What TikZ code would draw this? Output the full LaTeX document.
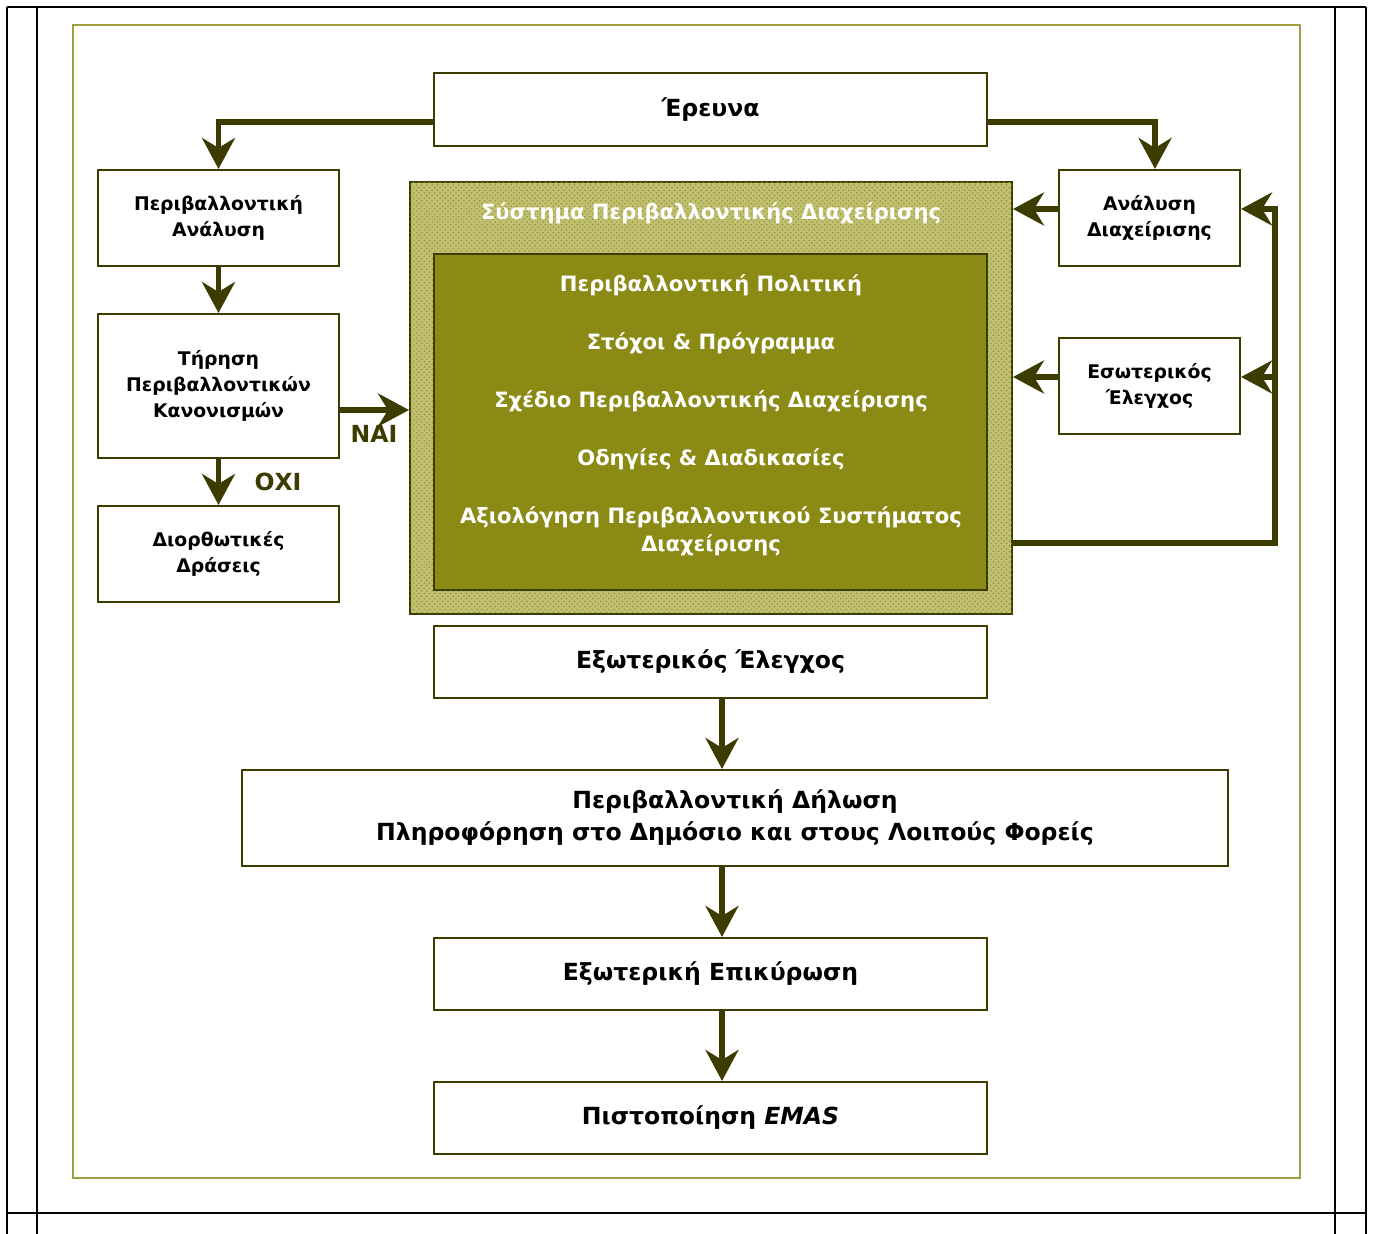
\documentclass[tikz,border=0pt]{standalone}
\usepackage{fontspec}
\setmainfont{DejaVu Sans}
\usetikzlibrary{arrows.meta,patterns,calc}
\definecolor{dk}{RGB}{60,60,0}
\definecolor{frameol}{RGB}{160,160,64}
\definecolor{sysfill}{RGB}{192,192,112}
\definecolor{syspat}{RGB}{150,150,60}
\definecolor{innerfill}{RGB}{138,138,20}
\begin{document}
\begin{tikzpicture}[x=0.02cm,y=-0.02cm,
 box/.style={draw=dk, line width=1.2pt, fill=white, align=center, inner sep=0pt},
 mainbox/.style={box, font=\fontsize{13.4}{18.2}\selectfont\bfseries},
 sidebox/.style={box, font=\fontsize{10.7}{14.8}\selectfont\bfseries},
 wtext/.style={text=white, align=center, inner sep=0pt, font=\fontsize{12}{15.9}\selectfont\bfseries},
 lbl/.style={text=dk, inner sep=0pt, font=\fontsize{13.4}{16}\selectfont\bfseries},
 arr/.style={draw=dk, line width=3.2pt, line join=miter, -{Stealth[length=0.62cm,width=0.66cm,inset=0.2cm]}},
 tbl/.style={draw=black, line width=1.4pt},
 ]
\useasboundingbox (0,0) rectangle (1374,1234);
% table lines
\draw[tbl] (7,7) -- (1366,7);
\draw[tbl] (7,1213) -- (1366,1213);
\draw[tbl] (7,7) -- (7,1234);
\draw[tbl] (37,7) -- (37,1234);
\draw[tbl] (1335,7) -- (1335,1234);
\draw[tbl] (1366,7) -- (1366,1234);
% olive frame
\draw[draw=frameol, line width=1.2pt] (73,25) rectangle (1300,1178);

% boxes
\node[mainbox, minimum width=11.06cm, minimum height=1.46cm] (erevna) at (710.5,109.5) {Έρευνα};
\node[sidebox, minimum width=4.82cm, minimum height=1.92cm] (pa) at (218.5,218) {Περιβαλλοντική\\Ανάλυση};
\node[sidebox, minimum width=4.82cm, minimum height=2.88cm] (tirisi) at (218.5,386) {Τήρηση\\Περιβαλλοντικών\\Κανονισμών};
\node[sidebox, minimum width=4.82cm, minimum height=1.92cm] (dior) at (218.5,554) {Διορθωτικές\\Δράσεις};
\node[draw=dk, line width=1.2pt, fill=sysfill, postaction={pattern=crosshatch dots, pattern color=syspat}, minimum width=12.04cm, minimum height=8.64cm, inner sep=0pt] (sys) at (711,398) {};
\node[draw=dk, line width=1.6pt, fill=innerfill, minimum width=11.06cm, minimum height=6.72cm, inner sep=0pt] (inner) at (710.5,422) {};
\node[wtext] (systitle) at (711,213) {Σύστημα Περιβαλλοντικής Διαχείρισης};
\node[wtext] (i1) at (711,285) {Περιβαλλοντική Πολιτική};
\node[wtext] (i2) at (711,343) {Στόχοι \& Πρόγραμμα};
\node[wtext] (i3) at (711,401) {Σχέδιο Περιβαλλοντικής Διαχείρισης};
\node[wtext] (i4) at (711,459) {Οδηγίες \& Διαδικασίες};
\node[wtext] (i5) at (711,531) {Αξιολόγηση Περιβαλλοντικού Συστήματος\\Διαχείρισης};
\node[sidebox, minimum width=3.62cm, minimum height=1.92cm] (anal) at (1149.5,218) {Ανάλυση\\Διαχείρισης};
\node[sidebox, minimum width=3.62cm, minimum height=1.92cm] (esot) at (1149.5,386) {Εσωτερικός\\Έλεγχος};
\node[mainbox, minimum width=11.06cm, minimum height=1.44cm] (exot) at (710.5,662) {Εξωτερικός Έλεγχος};
\node[mainbox, minimum width=19.72cm, minimum height=1.92cm] (dilosi) at (735,818) {Περιβαλλοντική Δήλωση\\Πληροφόρηση στο Δημόσιο και στους Λοιπούς Φορείς};
\node[mainbox, minimum width=11.06cm, minimum height=1.44cm] (epik) at (710.5,974) {Εξωτερική Επικύρωση};
\node[mainbox, minimum width=11.06cm, minimum height=1.44cm] (emas) at (710.5,1118) {Πιστοποίηση \textit{EMAS}};

% helper coordinates
\coordinate (ey) at (0,122);
\coordinate (ny) at (0,410);
\coordinate (fbc) at (1275,543);
\coordinate (fbt) at (1275,209);
\coordinate (fbm) at (1275,377);
\coordinate (vx) at (722,0);
\coordinate (lx) at (218.5,0);

% connectors
\draw[arr] (erevna.west |- ey) -| (pa.north);
\draw[arr] (erevna.east |- ey) -| ([xshift=0.11cm]anal.north);
\draw[arr] (pa.south) -- (lx |- tirisi.north);
\draw[arr] (lx |- tirisi.south) -- (dior.north);
\draw[arr] (tirisi.east |- ny) -- (sys.west |- ny);
\draw[arr] (anal.west |- fbt) -- (sys.east |- fbt);
\draw[arr] (esot.west |- fbm) -- (sys.east |- fbm);
\draw[arr] (sys.east |- fbc) -- (fbc) -- (fbt) -- (anal.east |- fbt);
\draw[arr] (fbm) -- (esot.east |- fbm);
\draw[arr] (exot.south -| vx) -- (dilosi.north -| vx);
\draw[arr] (dilosi.south -| vx) -- (epik.north -| vx);
\draw[arr] (epik.south -| vx) -- (emas.north -| vx);

\node[lbl] (nai) at (374,434) {ΝΑΙ};
\node[lbl] (oxi) at (278,482) {ΟΧΙ};
\end{tikzpicture}
\end{document}
